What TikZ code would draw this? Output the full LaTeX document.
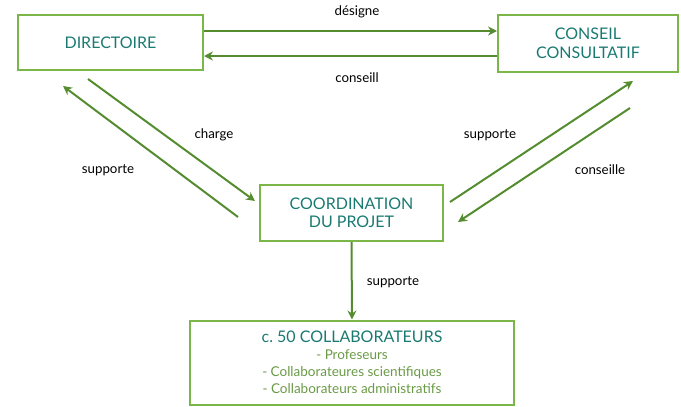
\documentclass[tikz,border=0pt]{standalone}
\usepackage{fontspec}
\setmainfont{Lato}
\usetikzlibrary{arrows.meta}
\definecolor{boxgreen}{HTML}{7AB648}
\definecolor{arrgreen}{HTML}{548C2F}
\definecolor{titleteal}{HTML}{1A7A72}
\definecolor{listgreen}{HTML}{6A9A45}
\newcommand{\listline}[1]{{\color{listgreen}\fontsize{13.5}{17}\selectfont #1}}

\begin{document}
\begin{tikzpicture}[x=1pt,y=-1pt,
        box/.style={draw=boxgreen,line width=2pt,text=titleteal,align=center,inner sep=0pt,font=\fontsize{16}{18.5}\selectfont},
        arr/.style={draw=arrgreen,line width=2pt,-{Stealth[length=9pt,width=9pt,inset=3pt]}},
        lbl/.style={font=\fontsize{13.3}{15}\selectfont}]
                \useasboundingbox (0,0) rectangle (681,407);
                \node[box,minimum width=185pt,minimum height=55pt] (dir) at (110.5,42.5) {DIRECTOIRE};
                \node[box,minimum width=180pt,minimum height=57pt] (cons) at (588,43.5) {CONSEIL\\CONSULTATIF};
                \node[box,minimum width=183pt,minimum height=56pt] (coord) at (351.5,213) {COORDINATION\\DU PROJET};
                \node[box,minimum width=324pt,minimum height=84pt,font=\fontsize{16}{17}\selectfont] (collab) at (352,362.5)
                    {c.~50 COLLABORATEURS\\\listline{- Profeseurs}\\\listline{- Collaborateures scientifiques}\\\listline{- Collaborateurs administratifs}};
                \coordinate (chA) at (88,79);
                \coordinate (chB) at (255,201);
                \coordinate (suA) at (238,217);
                \coordinate (suB) at (63,86);
                \coordinate (srA) at (450,202);
                \coordinate (srB) at (633,81);
                \coordinate (coA) at (630,108);
                \coordinate (coB) at (458,222);
                \draw[arr] (dir.east |- 0,31) -- (cons.west |- 0,31);
                \draw[arr] (cons.west |- 0,56) -- (dir.east |- 0,56);
                \draw[arr] (chA) -- (chB);
                \draw[arr] (suA) -- (suB);
                \draw[arr] (srA) -- (srB);
                \draw[arr] (coA) -- (coB);
                \draw[arr] (coord.south) -- (collab.north);
                \node[lbl] (designe) at (357,12) {désigne};
                \node[lbl] (conseill) at (357,78) {conseill};
                \node[lbl] (charge) at (214,135) {charge};
                \node[lbl] (suleft) at (108,170) {supporte};
                \node[lbl] (suright) at (490,135) {supporte};
                \node[lbl] (conseille) at (600,170) {conseille};
                \node[lbl] (sudown) at (393,282) {supporte};
\end{tikzpicture}
\end{document}
